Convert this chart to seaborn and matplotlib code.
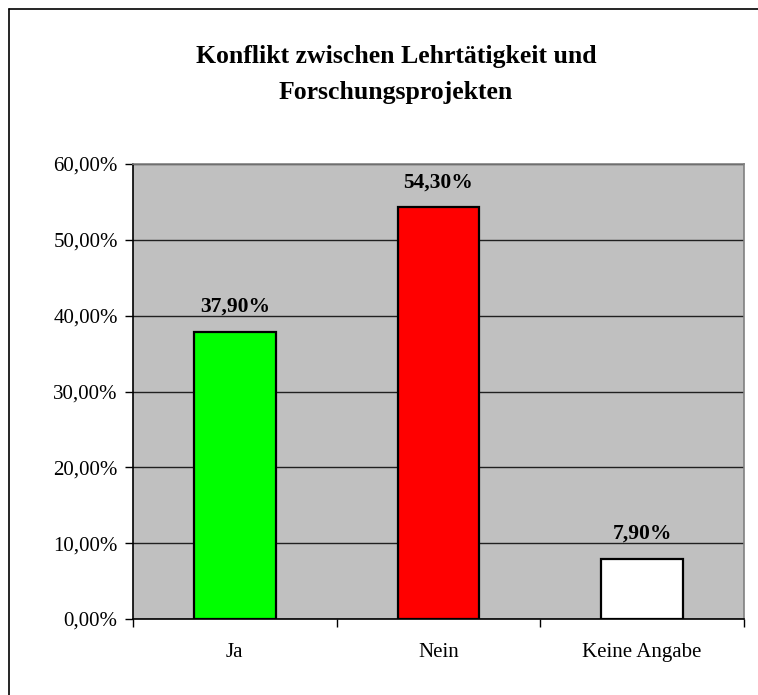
import numpy as np
import pandas as pd
import seaborn as sns
import matplotlib.pyplot as plt
from matplotlib.lines import Line2D
from matplotlib.ticker import FuncFormatter, MultipleLocator

# chart data
categories = ['Ja', 'Nein', 'Keine Angabe']
values = [37.9, 54.3, 7.9]
bar_colors = ['#00ff00', '#ff0000', '#ffffff']
title_lines = ['Konflikt zwischen Lehrtätigkeit und', 'Forschungsprojekten']

df = pd.DataFrame({'Antwort': categories, 'Anteil': values})

sns.set_style('white')
plt.rcParams['font.family'] = ['Liberation Serif', 'DejaVu Serif']
plt.rcParams['text.color'] = 'black'
plt.rcParams['xtick.color'] = 'black'
plt.rcParams['ytick.color'] = 'black'

W, H = 758, 695
fig = plt.figure(figsize=(W / 100, H / 100), dpi=100)
ax = fig.add_axes([133 / W, 1 - 619 / H, (744 - 133) / W, (619 - 164) / H])

sns.barplot(data=df, x='Antwort', y='Anteil', hue='Antwort', palette=bar_colors,
            saturation=1, width=0.4, edgecolor='black', linewidth=1.6,
            legend=False, ax=ax, zorder=3)

ax.set_facecolor('#c0c0c0')
ax.set_ylim(0, 60)
ax.set_xlim(-0.5, 2.5)
ax.yaxis.set_major_locator(MultipleLocator(10))
ax.yaxis.set_major_formatter(FuncFormatter(lambda v, p: f'{v:.2f}%'.replace('.', ',')))
ax.grid(axis='y', color='#202020', linewidth=1, zorder=0)
ax.set_axisbelow(True)

for s in ['top', 'right']:
    ax.spines[s].set_color('#808080')
    ax.spines[s].set_linewidth(1.2)
for s in ['left', 'bottom']:
    ax.spines[s].set_color('black')
    ax.spines[s].set_linewidth(1.2)

ax.set_xlabel('')
ax.set_ylabel('')
ax.set_xticks([0, 1, 2])
ax.set_xticklabels(categories, fontsize=15)
ax.set_xticks([-0.5, 0.5, 1.5, 2.5], minor=True)
ax.tick_params(axis='x', which='major', length=0, pad=17)
ax.tick_params(axis='x', which='minor', bottom=True, length=6, width=1, direction='out')
ax.tick_params(axis='y', left=True, length=6, width=1, direction='out', labelsize=15, pad=5)

for i, v in enumerate(values):
    ax.annotate(f'{v:.2f}%'.replace('.', ','), (i, v), xytext=(0, 18), textcoords='offset points',
                ha='center', va='center', fontsize=15.5, fontweight='bold')

fig.text(396 / W, 1 - 56 / H, title_lines[0], ha='center', va='center',
         fontsize=18.5, fontweight='bold')
fig.text(396 / W, 1 - 93 / H, title_lines[1], ha='center', va='center',
         fontsize=18.5, fontweight='bold')

# outer chart border, only its left and top edges fall inside the picture
x0, y0 = 8.5 / W, 1 - 8.5 / H
fig.lines.append(Line2D([x0, x0], [0, y0], transform=fig.transFigure, color='black', linewidth=1.2))
fig.lines.append(Line2D([x0, 1], [y0, y0], transform=fig.transFigure, color='black', linewidth=1.2))

fig.savefig('out.png', dpi=100)
